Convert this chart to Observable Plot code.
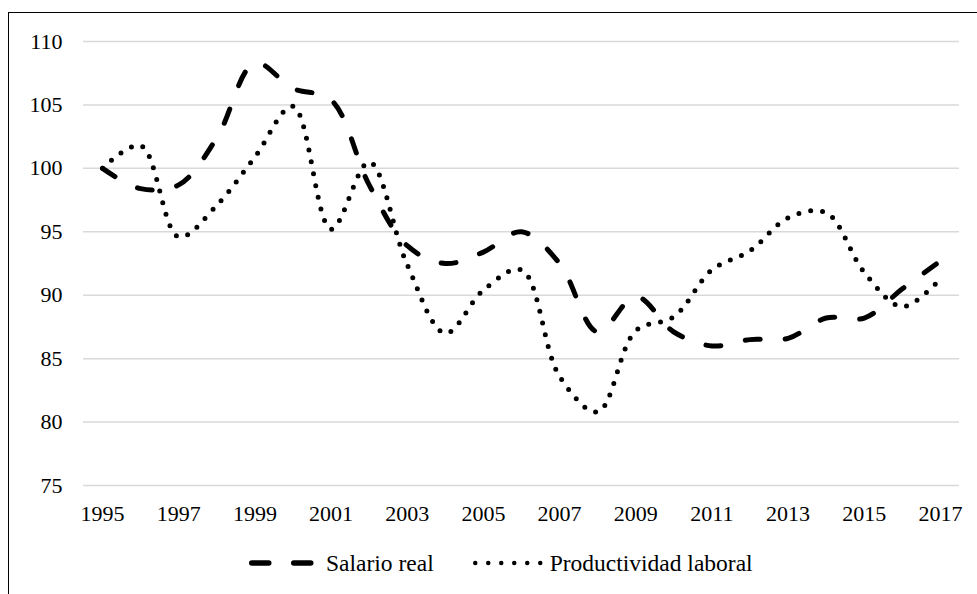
<!DOCTYPE html>
<html>
<head>
<meta charset="utf-8">
<script src="https://cdn.jsdelivr.net/npm/d3@7"></script>
<script src="https://cdn.jsdelivr.net/npm/@observablehq/plot@0.6"></script>
<style>
  html, body { margin: 0; padding: 0; background: #fff; }
  body { width: 977px; height: 594px; position: relative; overflow: hidden; font-family: "Liberation Serif", "Times New Roman", Tinos, "DejaVu Serif", serif; }
  #frame { position: absolute; left: 8px; top: 12px; width: 1000px; height: 620px; border-left: 1.5px solid #000; border-top: 1.5px solid #000; box-sizing: border-box; pointer-events: none; }
  #chart { position: absolute; left: 0; top: 0; }
  #legend { position: absolute; left: 248px; top: 548px; height: 30px; display: flex; align-items: center; font-size: 23.5px; color: #000; white-space: nowrap; font-family: "Liberation Serif", "Times New Roman", Tinos, "DejaVu Serif", serif; }
  #legend .item { display: flex; align-items: center; }
  #legend svg { display: block; }
</style>
</head>
<body>
<div id="frame"></div>
<div id="chart"></div>
<div id="legend"></div>
<script>
const years = [1995,1996,1997,1998,1999,2000,2001,2002,2003,2004,2005,2006,2007,2008,2009,2010,2011,2012,2013,2014,2015,2016,2017];
const salarioReal = [100, 98.4, 98.7, 102.4, 108.3, 106.3, 105.4, 98.7, 93.9, 92.5, 93.4, 95.0, 92.5, 87.1, 89.9, 87.1, 86.0, 86.5, 86.6, 88.2, 88.2, 90.5, 92.7];
const productividad = [100, 101.8, 94.6, 97.1, 100.9, 104.9, 95.2, 100.5, 92.4, 87.0, 90.4, 92.0, 83.6, 80.8, 87.2, 88.3, 92.0, 93.5, 96.1, 96.5, 91.8, 89.1, 91.3];
const seriesNames = ["Salario real", "Productividad laboral"];
const yTicks = [75, 80, 85, 90, 95, 100, 105, 110];
const xTicks = [1995, 1997, 1999, 2001, 2003, 2005, 2007, 2009, 2011, 2013, 2015, 2017];

const salarioData = years.map((y, i) => ({year: y, value: salarioReal[i]}));
const prodData = years.map((y, i) => ({year: y, value: productividad[i]}));

const serif = "'Liberation Serif', 'Times New Roman', Tinos, 'DejaVu Serif', serif";
const chart = Plot.plot({
  width: 977,
  height: 535,
  marginLeft: 83,
  marginRight: 18,
  marginTop: 41,
  marginBottom: 50,
  style: {fontFamily: serif, fontSize: "22px", color: "#000", background: "transparent", overflow: "visible"},
  x: {domain: [1994.5, 2017.5], ticks: xTicks, tickFormat: "d", tickSize: 0, tickPadding: 20, label: null},
  y: {domain: [75, 110], ticks: yTicks, tickSize: 0, tickPadding: 21, label: null},
  marks: [
    Plot.ruleY(yTicks, {stroke: "#d9d9d9", strokeWidth: 1.5}),
    Plot.line(prodData, {x: "year", y: "value", curve: "catmull-rom", stroke: "#000", strokeWidth: 5, strokeDasharray: "0,12", strokeLinecap: "round"}),
    Plot.line(salarioData, {x: "year", y: "value", curve: "catmull-rom", stroke: "#000", strokeWidth: 5, strokeDasharray: "15,25", strokeLinecap: "round"}),
    Plot.axisX({ticks: xTicks, tickFormat: "d", tickSize: 0, tickPadding: 20, fontSize: 22, fontFamily: serif}),
    Plot.axisY({ticks: yTicks, tickSize: 0, tickPadding: 21, fontSize: 22, fontFamily: serif})
  ]
});
document.getElementById("chart").appendChild(chart);

// Legend
const legend = document.getElementById("legend");
function sample(dash, width, len) {
  const ns = "http://www.w3.org/2000/svg";
  const s = document.createElementNS(ns, "svg");
  s.setAttribute("width", len);
  s.setAttribute("height", 20);
  const l = document.createElementNS(ns, "line");
  l.setAttribute("x1", width / 2 + 1);
  l.setAttribute("x2", len - width / 2 - 1);
  l.setAttribute("y1", 10);
  l.setAttribute("y2", 10);
  l.setAttribute("stroke", "#000");
  l.setAttribute("stroke-width", width);
  l.setAttribute("stroke-linecap", "round");
  l.setAttribute("stroke-dasharray", dash);
  s.appendChild(l);
  return s;
}
const styles = [
  {dash: "17,25", width: 5.5, len: 68, gapAfter: 10},
  {dash: "0,13", width: 4.5, len: 72, gapAfter: 6}
];
seriesNames.forEach((name, i) => {
  const item = document.createElement("div");
  item.className = "item";
  if (i > 0) item.style.marginLeft = "38px";
  const sv = sample(styles[i].dash, styles[i].width, styles[i].len);
  sv.style.marginRight = styles[i].gapAfter + "px";
  item.appendChild(sv);
  const t = document.createElement("span");
  t.textContent = name;
  item.appendChild(t);
  legend.appendChild(item);
});
</script>
</body>
</html>
